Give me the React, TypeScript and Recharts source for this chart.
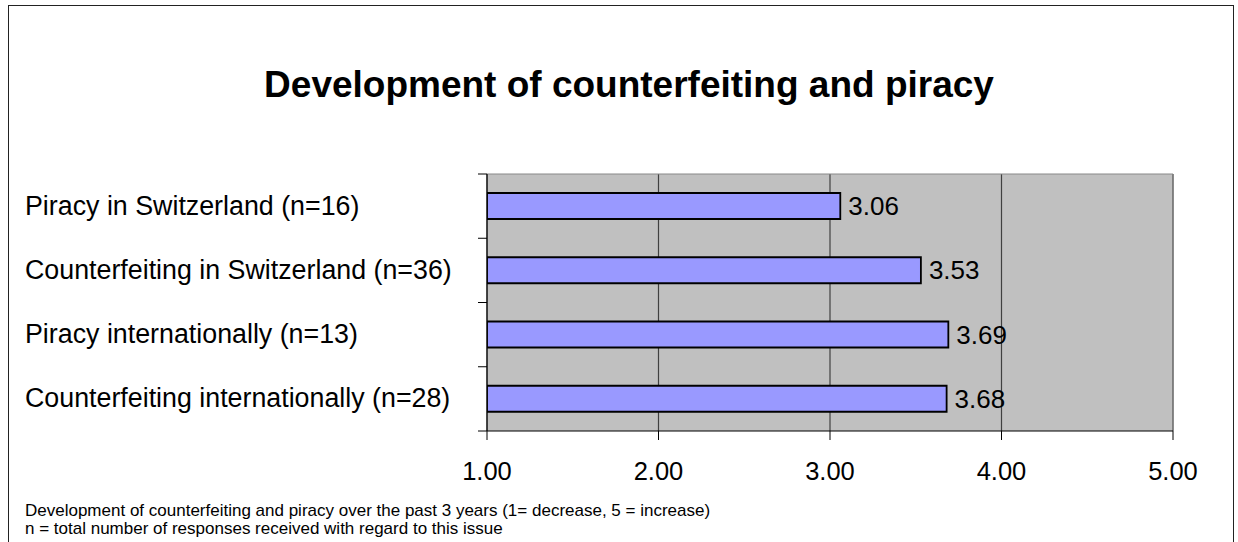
import { BarChart, Bar, XAxis, YAxis, CartesianGrid, LabelList } from 'recharts'

const FONT = '"Liberation Sans", Arial, Helvetica, sans-serif'

const categories = [
  'Piracy in Switzerland (n=16)',
  'Counterfeiting in Switzerland (n=36)',
  'Piracy internationally (n=13)',
  'Counterfeiting internationally (n=28)',
]
const scores = [3.06, 3.53, 3.69, 3.68]
const scaleTicks = [1, 2, 3, 4, 5]

const title = 'Development of counterfeiting and piracy'
const notes = [
  'Development of counterfeiting and piracy over the past 3 years (1= decrease, 5 = increase)',
  'n = total number of responses received with regard to this issue',
]

const W = 1238
const H = 542
const LABEL_X = 25
const PLOT = { left: 487, top: 174, right: 1173, bottom: 431 }

const data = categories.map((name, i) => ({ name, score: scores[i] }))

// category labels are left aligned, tick marks sit on the band boundaries
function CategoryTick(props: any) {
  const { y, payload, index, visibleTicksCount } = props
  const half = payload?.offset ?? (PLOT.bottom - PLOT.top) / categories.length / 2
  const x0 = PLOT.left - 9
  return (
    <g>
      <line x1={x0} x2={PLOT.left} y1={y - half} y2={y - half} stroke="#000" />
      {index === visibleTicksCount - 1 && (
        <line x1={x0} x2={PLOT.left} y1={y + half} y2={y + half} stroke="#000" />
      )}
      <text x={LABEL_X} y={y} dy="0.32em" fontSize={26.8} fontFamily={FONT} fill="#000">
        {payload.value}
      </text>
    </g>
  )
}

export default function App() {
  return (
    <div style={{ position: 'absolute', left: 0, top: 0, width: W, height: H, overflow: 'hidden', background: '#fff' }}>
      <div
        style={{
          position: 'absolute', left: 8, top: 5, width: 1226, height: 600,
          border: '1px solid #222', boxSizing: 'border-box',
        }}
      />
      <BarChart
        width={W}
        height={H}
        data={data}
        layout="vertical"
        barSize={26}
        margin={{ top: PLOT.top, right: W - PLOT.right, bottom: 0, left: LABEL_X }}
        style={{ position: 'absolute', left: 0, top: 0 }}
      >
        <CartesianGrid horizontal={false} stroke="#404040" strokeWidth={1.2} fill="#C0C0C0" fillOpacity={1} />
        <CartesianGrid
          stroke="#888"
          horizontalCoordinatesGenerator={({ offset }: any) => [offset.top]}
          verticalCoordinatesGenerator={({ offset }: any) => [offset.left + offset.width]}
        />
        <XAxis
          type="number"
          domain={[1, 5]}
          ticks={scaleTicks}
          allowDataOverflow
          height={H - PLOT.bottom}
          tickSize={9}
          tickMargin={22}
          axisLine={{ stroke: '#000' }}
          tickLine={{ stroke: '#000' }}
          tick={{ fontSize: 25.5, fontFamily: FONT, fill: '#000' }}
          tickFormatter={(v: number) => v.toFixed(2)}
        />
        <YAxis
          type="category"
          dataKey="name"
          width={PLOT.left - LABEL_X}
          axisLine={{ stroke: '#000' }}
          tickLine={false}
          tick={<CategoryTick />}
          interval={0}
        />
        <Bar dataKey="score" fill="#9999FF" stroke="#000" strokeWidth={1.8} isAnimationActive={false}>
          <LabelList
            dataKey="score"
            position="right"
            offset={8}
            fontSize={26}
            fontFamily={FONT}
            fill="#000"
            formatter={(v: any) => Number(v).toFixed(2)}
          />
        </Bar>
      </BarChart>
      <svg width={W} height={H} style={{ position: 'absolute', left: 0, top: 0, pointerEvents: 'none' }}>
        <text x={629} y={97} textAnchor="middle" fontSize={37} fontWeight="bold" fontFamily={FONT} fill="#000">
          {title}
        </text>
        {notes.map((t, i) => (
          <text key={i} x={25} y={516 + i * 18} fontSize={17} fontFamily={FONT} fill="#000">
            {t}
          </text>
        ))}
      </svg>
    </div>
  )
}
